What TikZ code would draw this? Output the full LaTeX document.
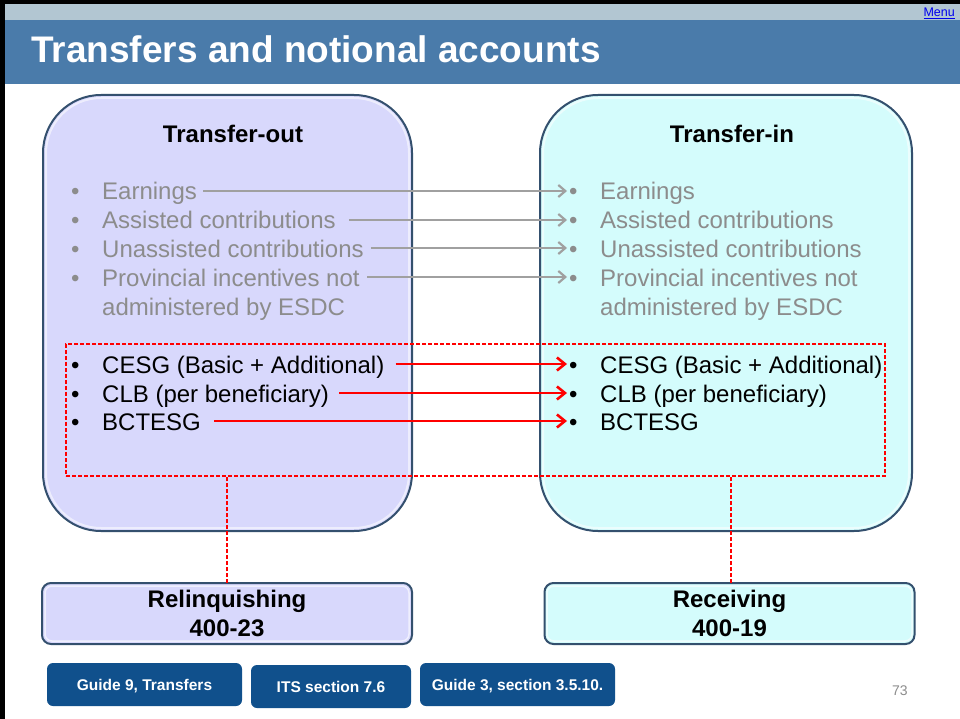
\documentclass[tikz,border=0pt]{standalone}
\usepackage{fontspec}
\setmainfont{Liberation Sans}
\usetikzlibrary{arrows.meta}
\definecolor{hdrlight}{RGB}{178,198,210}
\definecolor{hdrdark}{RGB}{74,123,170}
\definecolor{lav}{RGB}{216,216,252}
\definecolor{cyanfill}{RGB}{212,252,252}
\definecolor{boxline}{RGB}{52,80,110}
\definecolor{btn}{RGB}{16,80,140}
\definecolor{txtgray}{RGB}{140,140,140}
\definecolor{arrgray}{RGB}{160,160,160}
\definecolor{menublue}{RGB}{0,0,238}
\tikzset{
  bigbox/.style={draw=boxline, line width=2pt, rounded corners=58pt, inner sep=0pt, outer sep=0pt, minimum height=436pt},
  bigtitle/.style={anchor=base, inner sep=0pt, font=\bfseries\fontsize{24}{28}\selectfont},
  item/.style={anchor=base west, inner sep=0pt, text height=22pt, text depth=4pt, font=\fontsize{24}{28}\selectfont},
  grayitem/.style={item, text=txtgray},
  blackitem/.style={item, text=black},
  grayarrow/.style={draw=arrgray, line width=2.2pt, shorten >=2pt, -{Straight Barb[length=7pt,width=12pt]}},
  redarrow/.style={draw=red, line width=2.6pt, shorten >=2pt, -{Straight Barb[length=8pt,width=13pt]}},
  reddash/.style={draw=red, line width=1.3pt, dash pattern=on 4pt off 2pt},
  smallbox/.style={draw=boxline, line width=2pt, rounded corners=9pt, inner sep=0pt, outer sep=0pt, minimum width=370pt, minimum height=61pt, align=center, font=\bfseries\fontsize{24}{29}\selectfont},
  btnbox/.style={fill=btn, rounded corners=6pt, inner sep=0pt, outer sep=0pt, minimum height=43pt, text=white, text height=11pt, text depth=0pt, font=\bfseries\fontsize{15.5}{18}\selectfont},
}
\begin{document}
\begin{tikzpicture}[x=1pt,y=-1pt]
\useasboundingbox (0,0) rectangle (960,719);
\fill[white] (0,0) rectangle (960,719);
% header
\fill[hdrlight] (0,4) rectangle (960,20);
\fill[hdrdark] (0,20) rectangle (960,84);
\fill[black] (0,0) rectangle (960,4);
\fill[black] (0,0) rectangle (5,719);
\node[anchor=base west, inner sep=0pt, text=white, font=\bfseries\fontsize{37}{42}\selectfont] (title) at (31,63) {Transfers and notional accounts};
\node[anchor=base east, inner sep=0pt, text=menublue, font=\fontsize{12.5}{14}\selectfont] (menu) at (955,17) {\underline{Menu}};

% big boxes
\node[bigbox, fill=lav, minimum width=369pt] (tout) at (227.5,313) {};
\draw[white, opacity=0.55, line width=2pt, rounded corners=55pt] (46,98) rectangle (409,528);
\node[bigbox, fill=cyanfill, minimum width=372pt] (tin) at (726,313) {};
\draw[white, opacity=0.55, line width=2pt, rounded corners=55pt] (543,98) rectangle (909,528);
\node[bigtitle] (touttitle) at (233,143) {Transfer-out};
\node[bigtitle] (tintitle) at (732,143) {Transfer-in};

% gray items
\node[grayitem] (g1) at (71,200) {•\hspace{22.6pt}Earnings};
\node[grayitem] (g2) at (71,229) {•\hspace{22.6pt}Assisted contributions};
\node[grayitem] (g3) at (71,257) {•\hspace{22.6pt}Unassisted contributions};
\node[grayitem] (g4) at (71,286) {•\hspace{22.6pt}Provincial incentives not};
\node[grayitem] (g5) at (102,315) {administered by ESDC};
\node[grayitem] (h1) at (569,200) {•\hspace{22.6pt}Earnings};
\node[grayitem] (h2) at (569,229) {•\hspace{22.6pt}Assisted contributions};
\node[grayitem] (h3) at (569,257) {•\hspace{22.6pt}Unassisted contributions};
\node[grayitem] (h4) at (569,286) {•\hspace{22.6pt}Provincial incentives not};
\node[grayitem] (h5) at (600,315) {administered by ESDC};
\draw[grayarrow] ([xshift=6pt]g1.east) -- (h1.west);
\draw[grayarrow] ([xshift=13pt]g2.east) -- (h2.west);
\draw[grayarrow] ([xshift=7pt]g3.east) -- (h3.west);
\draw[grayarrow] ([xshift=7.5pt]g4.east) -- (h4.west);

% red dashed box
\node[reddash, inner sep=0pt, outer sep=0pt, minimum width=819pt, minimum height=132pt] (rbox) at (475.5,410) {};

% black items
\node[blackitem] (r1) at (71,373) {•\hspace{22.6pt}CESG (Basic + Additional)};
\node[blackitem] (r2) at (71,402) {•\hspace{22.6pt}CLB (per beneficiary)};
\node[blackitem] (r3) at (71,430) {•\hspace{22.6pt}BCTESG};
\node[blackitem] (s1) at (569,373) {•\hspace{22.6pt}CESG (Basic + Additional)};
\node[blackitem] (s2) at (569,402) {•\hspace{22.6pt}CLB (per beneficiary)};
\node[blackitem] (s3) at (569,430) {•\hspace{22.6pt}BCTESG};
\draw[redarrow] ([xshift=11pt]r1.east) -- (s1.west);
\draw[redarrow] ([xshift=10pt]r2.east) -- (s2.west);
\draw[redarrow] ([xshift=13pt]r3.east) -- (s3.west);

% bottom boxes
\node[smallbox, fill=lav] (relq) at (227,613.5) {Relinquishing\\400-23};
\node[smallbox, fill=cyanfill] (recv) at (729.5,613.5) {Receiving\\400-19};
\draw[white, opacity=0.6, line width=1.5pt, rounded corners=7pt] (45,586) rectangle (409,641);
\draw[white, opacity=0.6, line width=1.5pt, rounded corners=7pt] (547,586) rectangle (912,641);
\draw[reddash] (relq.north) -- (relq.north |- rbox.south);
\draw[reddash] ([xshift=1.5pt]recv.north) -- ([xshift=1.5pt]recv.north |- rbox.south);

% buttons
\node[btnbox, minimum width=195pt] (b1) at (144.5,684.5) {Guide 9, Transfers};
\node[btnbox, minimum width=160pt] (b2) at (331,686.5) {ITS section 7.6};
\node[btnbox, minimum width=195pt] (b3) at (517.5,684.5) {Guide 3, section 3.5.10.};

\node[anchor=base west, inner sep=0pt, text=txtgray, font=\fontsize{14}{16}\selectfont] (pnum) at (892,695) {73};
\end{tikzpicture}
\end{document}
